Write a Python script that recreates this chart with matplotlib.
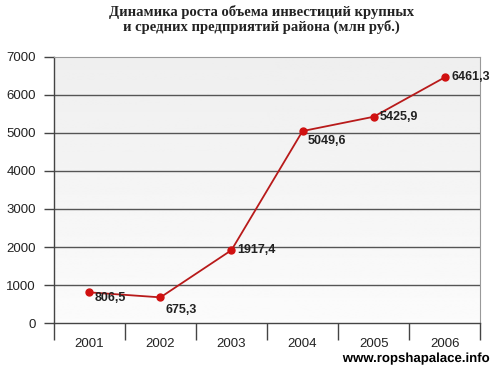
import numpy as np
import matplotlib.pyplot as plt
import matplotlib.patheffects as pe

years = ["2001", "2002", "2003", "2004", "2005", "2006"]
values = [806.5, 675.3, 1917.4, 5049.6, 5425.9, 6461.3]
labels = ["806,5", "675,3", "1917,4", "5049,6", "5425,9", "6461,3"]
# label offsets in points (dx, dy)
offsets = [(4, -4), (4, -9), (4, 0), (4, -7), (4, 0), (5, 0)]

plt.rcParams['font.family'] = ['Liberation Sans', 'DejaVu Sans']

fig = plt.figure(figsize=(4.94, 3.65), dpi=100)
ax = fig.add_axes([0.109, 0.115, 0.863, 0.729])

x = np.arange(len(years))
ax.set_xlim(-0.5, len(years) - 0.5)
ax.set_ylim(0, 7000)

# soft gray background, lighter toward the bottom
grad = np.linspace(0.935, 0.985, 256).reshape(-1, 1)
ax.imshow(grad, extent=[-0.5, len(years) - 0.5, 0, 7000], aspect='auto',
          cmap='gray', vmin=0, vmax=1, origin='upper', zorder=0)

for yv in range(1000, 7000, 1000):
    ax.axhline(yv, color='#555555', lw=1.0, zorder=1)

ax.plot(x, values, color='#b81a1a', lw=1.3, marker='o', ms=5,
        mfc='#d01010', mec='#d01010', zorder=3)

for xi, v, lab, (dx, dy) in zip(x, values, labels, offsets):
    ax.annotate(lab, (xi, v), xytext=(dx, dy), textcoords='offset points',
                ha='left', va='center', fontsize=9, fontweight='bold',
                color='#222222', zorder=4)

ax.set_yticks(range(0, 7001, 1000))
ax.set_xticks(x)
ax.set_xticklabels(years)
ax.set_xticks(np.arange(-0.5, len(years)), minor=True)
ax.tick_params(axis='x', which='major', length=0, pad=11, labelsize=9.5,
               colors='#222222')
ax.tick_params(axis='x', which='minor', length=12, width=1, color='#444444')
ax.tick_params(axis='y', length=7, width=1, color='#444444', labelsize=9.5,
               labelcolor='#222222', pad=6)

for side in ['top', 'right']:
    ax.spines[side].set_color('#999999')
    ax.spines[side].set_linewidth(0.8)
for side in ['left', 'bottom']:
    ax.spines[side].set_color('#444444')
    ax.spines[side].set_linewidth(1.0)
ax.spines['left'].set_bounds(0, 7000)

fig.text(0.53, 0.985, "Динамика роста объема инвестиций крупных\n"
         "и средних предприятий района (млн руб.)",
         ha='center', va='top', fontsize=10.5, fontweight='bold',
         family=['Liberation Serif', 'DejaVu Serif'], color='#222222',
         linespacing=1.05)

fig.text(0.992, 0.0, "www.ropshapalace.info", ha='right', va='bottom',
         fontsize=9.5, fontweight='bold', color='black',
         path_effects=[pe.withStroke(linewidth=2.5, foreground='white')])

fig.savefig("out.png", dpi=100)
